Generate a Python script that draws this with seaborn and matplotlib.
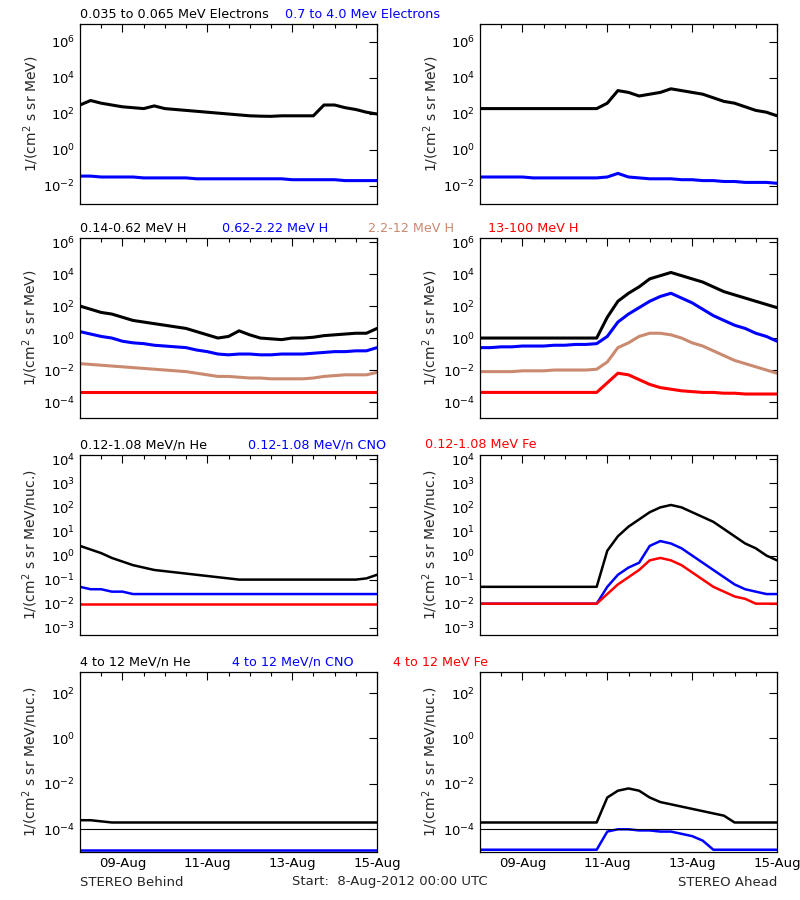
import numpy as np
import pandas as pd
import seaborn as sns
import matplotlib
matplotlib.use("Agg")
import matplotlib.pyplot as plt
from matplotlib.ticker import FixedLocator, FuncFormatter, MultipleLocator

sns.set_theme(style="white")
plt.rcParams['font.family'] = ['DejaVu Sans']

# time in days since 8-Aug-2012 00:00, 6-hour steps
days = [i * 0.25 for i in range(29)]

# log10 of intensities
e_lo_B = [2.5,2.75,2.6,2.5,2.4,2.35,2.3,2.45,2.3,2.25,2.2,2.15,2.1,2.05,2.0,1.95,1.9,1.88,1.87,1.9,1.9,1.9,1.9,2.5,2.5,2.35,2.25,2.1,2.0]
e_hi_B = [-1.45,-1.45,-1.5,-1.5,-1.5,-1.5,-1.55,-1.55,-1.55,-1.55,-1.55,-1.6,-1.6,-1.6,-1.6,-1.6,-1.6,-1.6,-1.6,-1.6,-1.65,-1.65,-1.65,-1.65,-1.65,-1.7,-1.7,-1.7,-1.7]
e_lo_A = [2.3,2.3,2.3,2.3,2.3,2.3,2.3,2.3,2.3,2.3,2.3,2.3,2.6,3.3,3.2,3.0,3.1,3.2,3.4,3.3,3.2,3.1,2.9,2.7,2.6,2.4,2.2,2.1,1.9]
e_hi_A = [-1.5,-1.5,-1.5,-1.5,-1.5,-1.55,-1.55,-1.55,-1.55,-1.55,-1.55,-1.55,-1.5,-1.3,-1.5,-1.55,-1.6,-1.6,-1.6,-1.65,-1.65,-1.7,-1.7,-1.75,-1.75,-1.8,-1.8,-1.8,-1.85]

h1_B = [2.0,1.8,1.6,1.5,1.3,1.1,1.0,0.9,0.8,0.7,0.6,0.4,0.2,0.0,0.1,0.45,0.2,0.0,-0.05,-0.1,0.0,0.0,0.05,0.15,0.2,0.25,0.3,0.3,0.6]
h2_B = [0.4,0.25,0.1,0.0,-0.2,-0.3,-0.35,-0.45,-0.5,-0.55,-0.6,-0.75,-0.85,-1.0,-1.05,-1.0,-1.0,-1.05,-1.05,-1.0,-1.0,-1.0,-0.95,-0.9,-0.85,-0.85,-0.8,-0.8,-0.6]
h3_B = [-1.6,-1.65,-1.7,-1.75,-1.8,-1.85,-1.9,-1.95,-2.0,-2.05,-2.1,-2.2,-2.3,-2.4,-2.4,-2.45,-2.5,-2.5,-2.55,-2.55,-2.55,-2.55,-2.5,-2.4,-2.35,-2.3,-2.3,-2.3,-2.15]
h4_B = [-3.35]*29
h1_A = [0.0]*12 + [1.3,2.3,2.8,3.2,3.7,3.9,4.1,3.9,3.7,3.5,3.2,2.9,2.7,2.5,2.3,2.1,1.9]
h2_A = [-0.6,-0.6,-0.55,-0.55,-0.5,-0.5,-0.5,-0.45,-0.45,-0.4,-0.4,-0.35,0.1,1.0,1.5,1.9,2.3,2.6,2.8,2.5,2.2,1.8,1.4,1.1,0.8,0.6,0.3,0.1,-0.2]
h3_A = [-2.1,-2.1,-2.1,-2.1,-2.05,-2.05,-2.05,-2.0,-2.0,-2.0,-2.0,-1.95,-1.5,-0.6,-0.3,0.1,0.3,0.3,0.2,0.0,-0.3,-0.5,-0.8,-1.1,-1.4,-1.6,-1.8,-2.0,-2.2]
h4_A = [-3.4]*12 + [-2.8,-2.2,-2.3,-2.6,-2.9,-3.1,-3.2,-3.3,-3.35,-3.4,-3.4,-3.45,-3.45,-3.5,-3.5,-3.5,-3.5]

he_B = [0.4,0.25,0.1,-0.1,-0.25,-0.4,-0.5,-0.6,-0.65,-0.7,-0.75,-0.8,-0.85,-0.9,-0.95,-1.0,-1.0,-1.0,-1.0,-1.0,-1.0,-1.0,-1.0,-1.0,-1.0,-1.0,-1.0,-0.95,-0.8]
cno_B = [-1.3,-1.4,-1.4,-1.5,-1.5,-1.6,-1.6,-1.6,-1.6,-1.6,-1.6,-1.6,-1.6,-1.6,-1.6,-1.6,-1.6,-1.6,-1.6,-1.6,-1.6,-1.6,-1.6,-1.6,-1.6,-1.6,-1.6,-1.6,-1.6]
fe_B = [-2.0]*29
he_A = [-1.3]*12 + [0.2,0.8,1.2,1.5,1.8,2.0,2.1,2.0,1.8,1.6,1.4,1.1,0.8,0.5,0.3,0.0,-0.2]
cno_A = [-2.0]*12 + [-1.3,-0.8,-0.5,-0.3,0.4,0.6,0.5,0.3,0.0,-0.3,-0.6,-0.9,-1.2,-1.4,-1.5,-1.6,-1.6]
fe_A = [-2.0]*12 + [-1.6,-1.2,-0.9,-0.6,-0.2,-0.1,-0.2,-0.4,-0.7,-1.0,-1.3,-1.5,-1.7,-1.8,-2.0,-2.0,-2.0]

he4_B = [-3.6,-3.6,-3.65,-3.7,-3.7,-3.7,-3.7,-3.7,-3.7,-3.7,-3.7,-3.7,-3.7,-3.7,-3.7,-3.7,-3.7,-3.7,-3.7,-3.7,-3.7,-3.7,-3.7,-3.7,-3.7,-3.7,-3.7,-3.7,-3.7]
cno4_B = [-4.9]*29
he4_A = [-3.7]*12 + [-2.6,-2.3,-2.2,-2.3,-2.6,-2.8,-2.9,-3.0,-3.1,-3.2,-3.3,-3.4,-3.7,-3.7,-3.7,-3.7,-3.7]
cno4_A = [-4.9]*12 + [-4.1,-4.0,-4.0,-4.05,-4.05,-4.1,-4.1,-4.2,-4.3,-4.5,-4.9,-4.9,-4.9,-4.9,-4.9,-4.9,-4.9]
ref_line = [1e-4]

BROWN = '#C98A70'
rows = [
    ("1/(cm$^2$ s sr MeV)", (1e-3, 1e7), [-2, 0, 2, 4, 6],
     [[(e_lo_B, 'black'), (e_hi_B, 'blue')], [(e_lo_A, 'black'), (e_hi_A, 'blue')]]),
    ("1/(cm$^2$ s sr MeV)", (1e-5, 1.8e6), [-4, -2, 0, 2, 4, 6],
     [[(h1_B, 'black'), (h2_B, 'blue'), (h3_B, BROWN), (h4_B, 'red')],
      [(h1_A, 'black'), (h2_A, 'blue'), (h3_A, BROWN), (h4_A, 'red')]]),
    ("1/(cm$^2$ s sr MeV/nuc.)", (5e-4, 1.5e4), [-3, -2, -1, 0, 1, 2, 3, 4],
     [[(he_B, 'black'), (cno_B, 'blue'), (fe_B, 'red')],
      [(he_A, 'black'), (cno_A, 'blue'), (fe_A, 'red')]]),
    ("1/(cm$^2$ s sr MeV/nuc.)", (1e-5, 8.5e2), [-4, -2, 0, 2],
     [[(he4_B, 'black'), (cno4_B, 'blue')], [(he4_A, 'black'), (cno4_A, 'blue')]]),
]
titles = [
    [("0.035 to 0.065 MeV Electrons", 'black', 80), ("0.7 to 4.0 Mev Electrons", 'blue', 285)],
    [("0.14-0.62 MeV H", 'black', 80), ("0.62-2.22 MeV H", 'blue', 222), ("2.2-12 MeV H", BROWN, 368), ("13-100 MeV H", 'red', 488)],
    [("0.12-1.08 MeV/n He", 'black', 80), ("0.12-1.08 MeV/n CNO", 'blue', 248), ("0.12-1.08 MeV Fe", 'red', 425)],
    [("4 to 12 MeV/n He", 'black', 80), ("4 to 12 MeV/n CNO", 'blue', 232), ("4 to 12 MeV Fe", 'red', 393)],
]
tops = [24, 238, 455, 672]
H = 180
fig = plt.figure(figsize=(8, 9), dpi=100)
W, HH = 800, 900
xtick_days = [1, 3, 5, 7]
xtick_labels = ["09-Aug", "11-Aug", "13-Aug", "15-Aug"]

def fmt(v, pos):
    return r"$10^{%d}$" % int(round(np.log10(v)))

for r, (ylab, ylim, yt, cols) in enumerate(rows):
    for c, left in enumerate([80, 480]):
        ax = fig.add_axes([left / W, 1 - (tops[r] + H) / HH, 297 / W, H / HH])
        for vals, col in cols[c]:
            df = pd.DataFrame({"t": days, "v": np.power(10.0, vals)})
            sns.lineplot(data=df, x="t", y="v", ax=ax, color=col, lw=2.2 if r < 2 else 1.8, legend=False)
        if r == 3:
            ax.axhline(ref_line[0], color='black', lw=0.8)
        ax.set_yscale('log')
        ax.set_ylim(*ylim)
        ax.set_xlim(0, 7)
        ax.yaxis.set_major_locator(FixedLocator([10.0 ** e for e in yt]))
        ax.yaxis.set_minor_locator(FixedLocator([]))
        ax.yaxis.set_major_formatter(FuncFormatter(fmt))
        ax.xaxis.set_major_locator(FixedLocator(xtick_days))
        ax.xaxis.set_minor_locator(MultipleLocator(0.5))
        ax.tick_params(which='both', direction='in', top=True, right=True, colors='black', labelsize=9.5)
        ax.tick_params(which='major', length=6, width=0.8)
        ax.tick_params(which='minor', length=3, width=0.8)
        if r == 3:
            ax.set_xticklabels(xtick_labels)
        else:
            ax.set_xticklabels([])
        ax.set_xlabel("")
        ax.set_ylabel(ylab, fontsize=10, labelpad=2)
        for s in ax.spines.values():
            s.set_color('black'); s.set_linewidth(0.9)
    for text, col, x in titles[r]:
        fig.text(x / W, 1 - (tops[r] - 10) / HH, text, color=col, fontsize=9.2, va='center')

fig.text(80 / W, 1 - 882 / HH, "STEREO Behind", fontsize=9.5, va='center')
fig.text(292 / W, 1 - 882 / HH, "Start:  8-Aug-2012 00:00 UTC", fontsize=9.5, va='center')
fig.text(777 / W, 1 - 882 / HH, "STEREO Ahead", fontsize=9.5, va='center', ha='right')
fig.savefig("out.png", dpi=100, facecolor='white')
